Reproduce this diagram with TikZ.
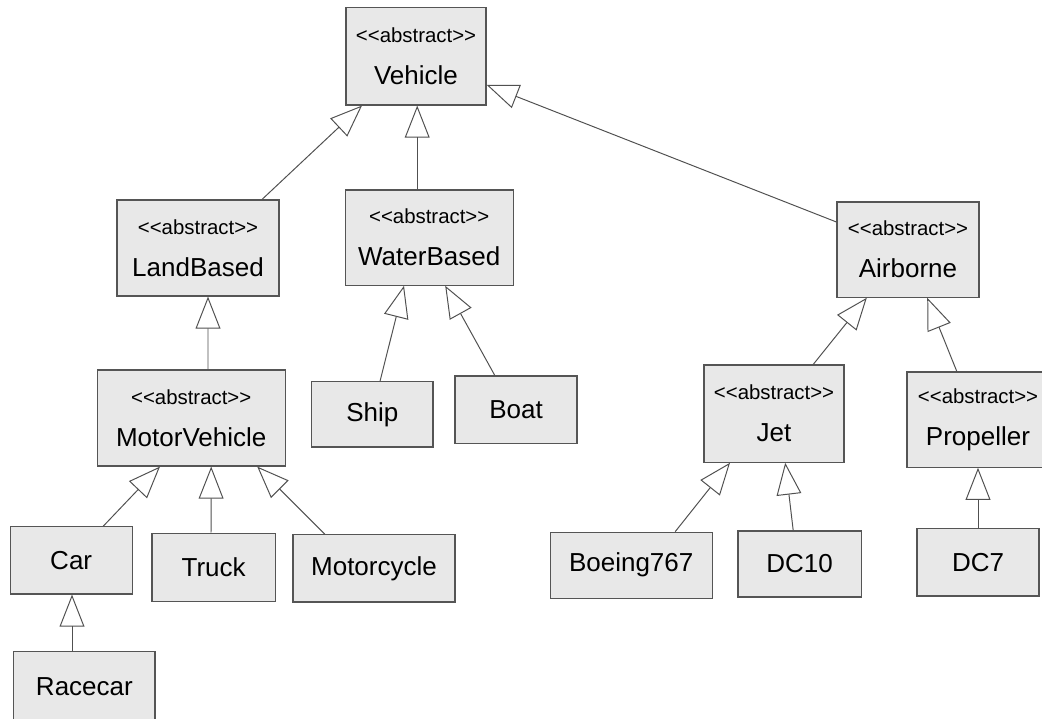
\documentclass[tikz,border=0pt]{standalone}
\usepackage{fontspec}
\setmainfont{Liberation Sans}
\usepackage{tikz}
\usepackage{xcolor}
\usetikzlibrary{arrows.meta}
\definecolor{boxfill}{RGB}{232, 232, 232}
\definecolor{boxline}{RGB}{85, 85, 85}
\definecolor{linkline}{RGB}{80, 80, 80}
\newcommand{\absmark}{{\fontsize{14.5}{16}\selectfont <{}<abstract>{}>}}

\begin{document}
\begin{tikzpicture}[
    umlclass/.style={
        rectangle,
        draw=boxline, fill=boxfill, line width=0.8pt,
        align=center, inner sep=2pt,
        font=\fontsize{18.5}{22}\selectfont
    },
    inherit/.style={
        -{Triangle[open, length=0.8cm, width=0.62cm]}, line width=0.7pt, draw=linkline
    }
]

\useasboundingbox (0,0) rectangle (26.05,-17.95);

% Abstract classes
\node[umlclass, minimum width=3.5cm, minimum height=2.43cm] (vehicle) at (10.40,-1.41) {\absmark\\[8pt]Vehicle};
\node[umlclass, minimum width=4.05cm, minimum height=2.4cm] (landbased) at (4.95,-6.20) {\absmark\\[8pt]LandBased};
\node[umlclass, minimum width=4.2cm, minimum height=2.38cm] (waterbased) at (10.73,-5.94) {\absmark\\[8pt]WaterBased};
\node[umlclass, minimum width=3.55cm, minimum height=2.38cm] (airborne) at (22.70,-6.24) {\absmark\\[8pt]Airborne};
\node[umlclass, minimum width=4.7cm, minimum height=2.4cm] (motorvehicle) at (4.78,-10.45) {\absmark\\[8pt]MotorVehicle};
\node[umlclass, minimum width=3.5cm, minimum height=2.43cm] (jet) at (19.35,-10.34) {\absmark\\[8pt]Jet};
\node[umlclass, minimum width=3.55cm, minimum height=2.38cm] (propeller) at (24.45,-10.49) {\absmark\\[8pt]Propeller};

% Concrete classes
\node[umlclass, minimum width=3.03cm, minimum height=1.63cm] (ship) at (9.31,-10.36) {Ship};
\node[umlclass, minimum width=3.05cm, minimum height=1.68cm] (boat) at (12.90,-10.24) {Boat};
\node[umlclass, minimum width=3.05cm, minimum height=1.68cm] (car) at (1.78,-14.01) {Car};
\node[umlclass, minimum width=3.08cm, minimum height=1.7cm] (truck) at (5.34,-14.18) {Truck};
\node[umlclass, minimum width=4.05cm, minimum height=1.68cm] (motorcycle) at (9.35,-14.21) {Motorcycle};
\node[umlclass, minimum width=3.53cm, minimum height=1.75cm] (racecar) at (2.11,-17.17) {Racecar};
\node[umlclass, minimum width=4.05cm, minimum height=1.65cm] (boeing) at (15.78,-14.13) {Boeing767};
\node[umlclass, minimum width=3.08cm, minimum height=1.65cm] (dcten) at (19.99,-14.10) {DC10};
\node[umlclass, minimum width=3.05cm, minimum height=1.68cm] (dcseven) at (24.45,-14.06) {DC7};

% Generalisation arrows
\draw[inherit] ([xshift=1.6cm]landbased.north) -- ([xshift=-1.35cm]vehicle.south);
\draw[inherit] ([xshift=-0.3cm]waterbased.north) -- ([xshift=0.03cm]vehicle.south);
\draw[inherit] ([yshift=0.69cm]airborne.west) -- ([yshift=-0.71cm]vehicle.east);
\draw[inherit] ([xshift=0.42cm]motorvehicle.north) -- ([xshift=0.25cm]landbased.south);
\draw[inherit] ([xshift=0.19cm]ship.north) -- ([xshift=-0.63cm]waterbased.south);
\draw[inherit] ([xshift=-0.53cm]boat.north) -- ([xshift=0.4cm]waterbased.south);
\draw[inherit] ([xshift=0.98cm]jet.north) -- ([xshift=-1.03cm]airborne.south);
\draw[inherit] ([xshift=-0.53cm]propeller.north) -- ([xshift=0.48cm]airborne.south);
\draw[inherit] ([xshift=0.8cm]car.north) -- ([xshift=-0.78cm]motorvehicle.south);
\draw[inherit] ([xshift=-0.065cm]truck.north) -- ([xshift=0.5cm]motorvehicle.south);
\draw[inherit] ([xshift=-1.23cm]motorcycle.north) -- ([xshift=1.65cm]motorvehicle.south);
\draw[inherit] ([xshift=-0.31cm]racecar.north) -- ([xshift=0.02cm]car.south);
\draw[inherit] ([xshift=1.1cm]boeing.north) -- ([xshift=-1.1cm]jet.south);
\draw[inherit] ([xshift=-0.16cm]dcten.north) -- ([xshift=0.28cm]jet.south);
\draw[inherit] (dcseven.north) -- (propeller.south);

\end{tikzpicture}
\end{document}
